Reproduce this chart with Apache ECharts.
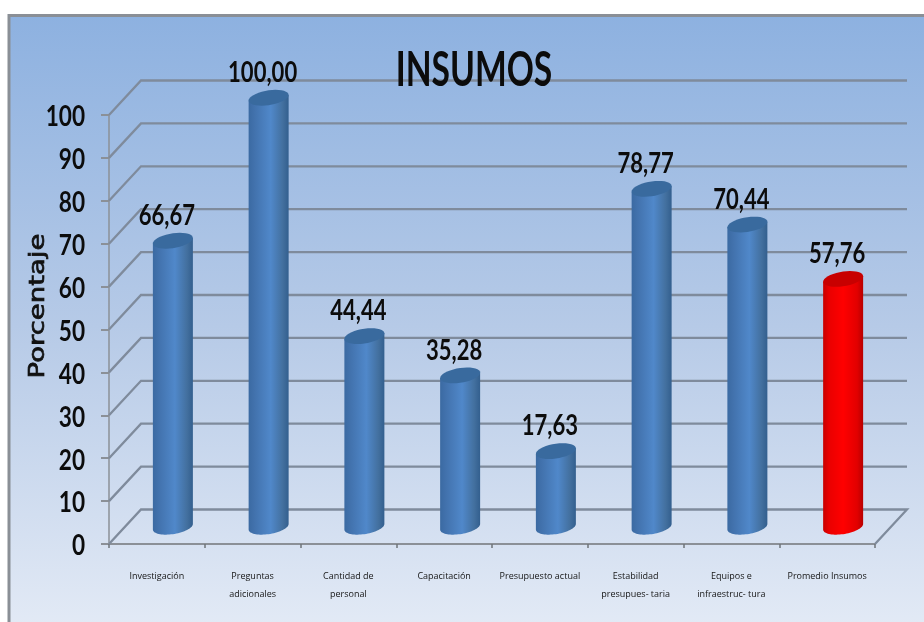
<!DOCTYPE html>
<html><head><meta charset="utf-8">
<style>html,body{margin:0;padding:0;background:#fff}#c{width:924px;height:622px}</style>
<script src="https://cdn.jsdelivr.net/npm/echarts@6/dist/echarts.min.js"></script>
</head><body><div id="c"></div>
<script>
const categories = ['Investigación','Preguntas\nadicionales','Cantidad de\npersonal','Capacitación','Presupuesto actual','Estabilidad\npresupues- taria','Equipos e\ninfraestruc- tura','Promedio Insumos'];
const values = [66.67,100.00,44.44,35.28,17.63,78.77,70.44,57.76];
const highlighted = 'Promedio Insumos';
const levels = [0,10,20,30,40,50,60,70,80,90,100];
const title = 'INSUMOS';
const axisTitle = 'Porcentaje';

const DX = 32, DY = 34.5, RX = 20, RY = 7.4, SHEAR = 0.14;
const NUMFONT = 'bold 29px Lato';
function cyl(c){return new echarts.graphic.LinearGradient(0,0,1,0,c);}
const blue = cyl([{offset:0,color:'#3b6aa2'},{offset:.15,color:'#4272ad'},{offset:.55,color:'#5088ca'},{offset:.85,color:'#43709f'},{offset:1,color:'#335f8e'}]);
const red = cyl([{offset:0,color:'#c80000'},{offset:.15,color:'#ea0000'},{offset:.5,color:'#ff0000'},{offset:.85,color:'#e20000'},{offset:1,color:'#b80000'}]);
function ell(cx,cy,from,to){const p=[];for(let i=0;i<=36;i++){const t=from+(to-from)*i/36;const x=RX*Math.cos(t);p.push([cx+x,cy+RY*Math.sin(t)-SHEAR*x]);}return p;}

const chart = echarts.init(document.getElementById('c'),null,{renderer:'canvas'});
chart.setOption({
  animation:false,
  backgroundColor:'#fff',
  graphic:[
   {type:'rect',z:-100,shape:{x:9,y:15.5,width:930,height:620},
    style:{stroke:'#8a8f96',lineWidth:3,fill:new echarts.graphic.LinearGradient(0,0,0,1,[{offset:0,color:'#8db1e0'},{offset:.5,color:'#b6cae7'},{offset:1,color:'#e4ebf6'}])}},
   {type:'text',z:20,x:474,y:71,scaleX:.7,style:{text:title,align:'center',verticalAlign:'middle',font:'bold 48px Lato',fill:'#0c0c0c'}},
   {type:'text',z:20,x:38,y:306,rotation:Math.PI/2,scaleX:1.25,style:{text:axisTitle,align:'center',verticalAlign:'middle',font:'22px "DejaVu Sans"',fill:'#111',stroke:'#111',lineWidth:.7}}
  ],
  grid:{left:109,right:49,top:115,bottom:78,containLabel:false},
  xAxis:{type:'category',data:categories,
    axisLine:{lineStyle:{color:'#8b9097',width:2}},
    axisTick:{show:true,length:4,lineStyle:{color:'#6f7479',width:1.5}},
    axisLabel:{interval:0,fontFamily:'"Open Sans"',fontSize:9,color:'#151515',lineHeight:18,margin:23,verticalAlign:'top'}},
  yAxis:{type:'value',min:0,max:100,interval:10,
    splitLine:{show:false},
    axisLine:{show:true,lineStyle:{color:'#8b9097',width:1.5}},
    axisTick:{show:true,length:8,lineStyle:{color:'#8b9097',width:2}},
    axisLabel:{show:false}},
  series:[
   {type:'custom',coordinateSystem:'cartesian2d',z:1,data:levels.map(v=>[0,v]),silent:true,
    renderItem(p,api){
      const v=api.value(1), y=api.coord([0,v])[1], g=p.coordSys;
      const pts=[[g.x,y],[g.x+DX,y-DY],[g.x+g.width+DX,y-DY]];
      if(v===0)pts.push([g.x+g.width,y]);
      return {type:'group',children:[
        {type:'polyline',shape:{points:pts},style:{fill:null,stroke:'#7f8b9c',lineWidth:2.3}},
        {type:'text',x:g.x-24,y:y+2,scaleX:.78,style:{text:String(v),align:'right',verticalAlign:'middle',font:NUMFONT,fill:'#0c0c0c'}}
      ]};
    }},
   {type:'custom',coordinateSystem:'cartesian2d',z:3,data:values.map((v,i)=>[i,v]),silent:true,
    renderItem(p,api){
      const i=api.value(0),v=api.value(1);
      const top=api.coord([i,v]),base=api.coord([i,0]);
      const cx=top[0]+DX/2, ty=top[1]-DY/2, by=base[1]-DY/2;
      const isRed=categories[i]===highlighted;
      const tl=[cx-RX,ty+SHEAR*RX], tr=[cx+RX,ty-SHEAR*RX];
      const body=[tl,...ell(cx,by,Math.PI,0),tr];
      return {type:'group',children:[
        {type:'polygon',shape:{points:body},style:{fill:isRed?red:blue}},
        {type:'polygon',shape:{points:ell(cx,ty,0,Math.PI*2)},style:{fill:isRed?'#c80000':'#396a9e'}},
        {type:'text',x:cx-6,y:ty-25,scaleX:.76,style:{text:v.toFixed(2).replace('.',','),align:'center',verticalAlign:'middle',font:NUMFONT,fill:'#0c0c0c'}}
      ]};
    }}
  ]
});
</script></body></html>
